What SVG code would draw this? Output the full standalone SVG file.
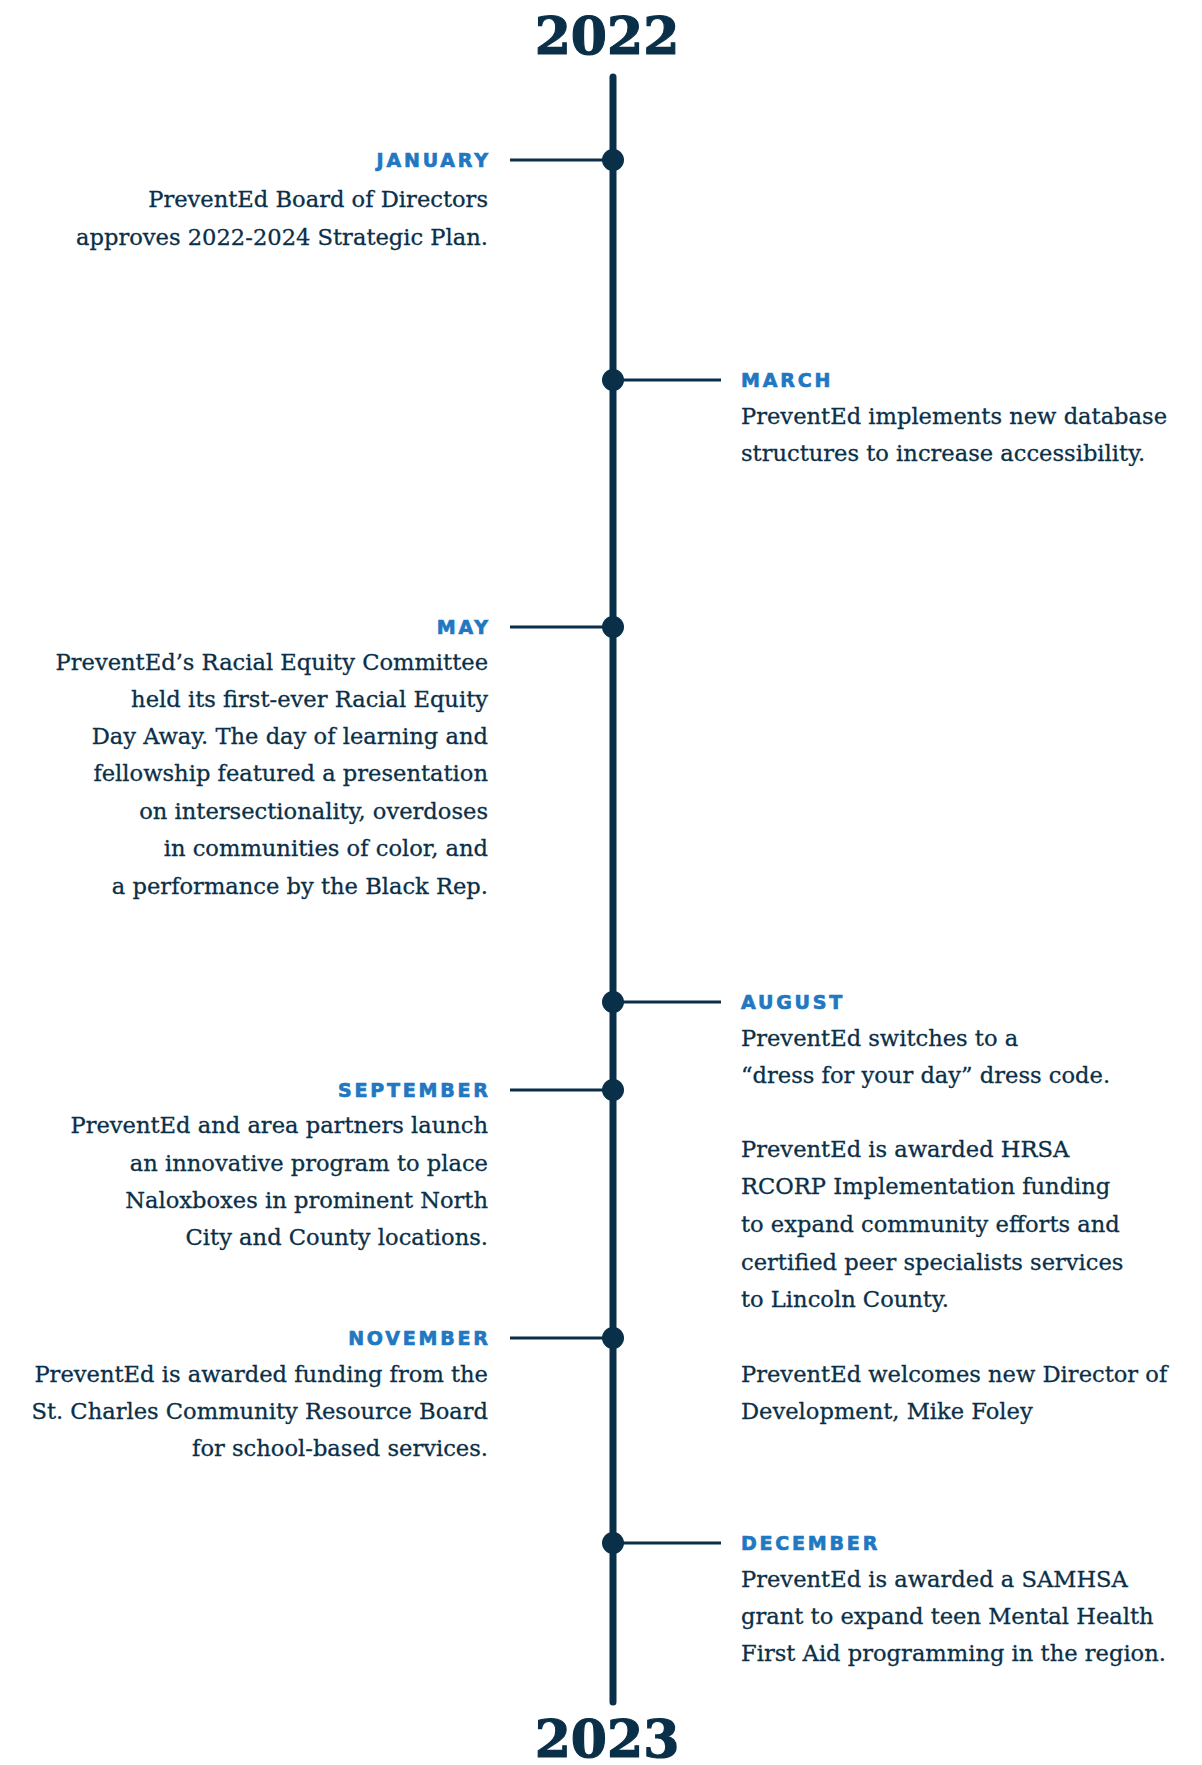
<svg xmlns="http://www.w3.org/2000/svg" width="1202" height="1765" viewBox="0 0 1202 1765">
<style>
.year{font-family:"DejaVu Serif",serif;font-weight:bold;font-size:52px;fill:#0a2f48;stroke:#0a2f48;stroke-width:1.2;text-anchor:middle}
.m{font-family:"DejaVu Sans",sans-serif;font-weight:bold;font-size:19px;letter-spacing:2.8px;fill:#1f78c1;stroke:#1f78c1;stroke-width:0.7}
.b{font-family:"DejaVu Serif",serif;font-size:22.6px;fill:#0a2f48;stroke:#0a2f48;stroke-width:0.3}
.l{text-anchor:end}
.c{stroke:#0a2f48;stroke-width:2.8;fill:none}
.d{fill:#0a2f48}
</style>
<rect width="1202" height="1765" fill="#ffffff"/>
<text class="year" x="607" y="54">2022</text>
<text class="year" x="607" y="1757">2023</text>
<g id="connectors">
<line x1="613" y1="77" x2="613" y2="1702" stroke="#0a2f48" stroke-width="7" stroke-linecap="round"/>
<line class="c" x1="510" y1="160" x2="613" y2="160"/>
<line class="c" x1="613" y1="380" x2="721" y2="380"/>
<line class="c" x1="510" y1="627" x2="613" y2="627"/>
<line class="c" x1="613" y1="1002" x2="721" y2="1002"/>
<line class="c" x1="510" y1="1090" x2="613" y2="1090"/>
<line class="c" x1="510" y1="1338" x2="613" y2="1338"/>
<line class="c" x1="613" y1="1543" x2="721" y2="1543"/>
</g>
<g id="january">
<circle class="d" cx="613" cy="160" r="11"/>
<text class="m l" x="490.8" y="167">JANUARY</text>
<text class="b l" x="488" y="207">PreventEd Board of Directors</text>
<text class="b l" x="488" y="245">approves 2022-2024 Strategic Plan.</text>
</g>
<g id="march">
<circle class="d" cx="613" cy="380" r="11"/>
<text class="m" x="741" y="387">MARCH</text>
<text class="b" x="741" y="424">PreventEd implements new database</text>
<text class="b" x="741" y="461">structures to increase accessibility.</text>
</g>
<g id="may">
<circle class="d" cx="613" cy="627" r="11"/>
<text class="m l" x="490.8" y="634">MAY</text>
<text class="b l" x="488" y="670">PreventEd’s Racial Equity Committee</text>
<text class="b l" x="488" y="707">held its first-ever Racial Equity</text>
<text class="b l" x="488" y="744">Day Away. The day of learning and</text>
<text class="b l" x="488" y="781">fellowship featured a presentation</text>
<text class="b l" x="488" y="819">on intersectionality, overdoses</text>
<text class="b l" x="488" y="856">in communities of color, and</text>
<text class="b l" x="488" y="894">a performance by the Black Rep.</text>
</g>
<g id="august">
<circle class="d" cx="613" cy="1002" r="11"/>
<text class="m" x="741" y="1009">AUGUST</text>
<text class="b" x="741" y="1046">PreventEd switches to a</text>
<text class="b" x="741" y="1083">“dress for your day” dress code.</text>
<text class="b" x="741" y="1157">PreventEd is awarded HRSA</text>
<text class="b" x="741" y="1194">RCORP Implementation funding</text>
<text class="b" x="741" y="1232">to expand community efforts and</text>
<text class="b" x="741" y="1270">certified peer specialists services</text>
<text class="b" x="741" y="1307">to Lincoln County.</text>
<text class="b" x="741" y="1382">PreventEd welcomes new Director of</text>
<text class="b" x="741" y="1419">Development, Mike Foley</text>
</g>
<g id="september">
<circle class="d" cx="613" cy="1090" r="11"/>
<text class="m l" x="490.8" y="1097">SEPTEMBER</text>
<text class="b l" x="488" y="1133">PreventEd and area partners launch</text>
<text class="b l" x="488" y="1171">an innovative program to place</text>
<text class="b l" x="488" y="1208">Naloxboxes in prominent North</text>
<text class="b l" x="488" y="1245">City and County locations.</text>
</g>
<g id="november">
<circle class="d" cx="613" cy="1338" r="11"/>
<text class="m l" x="490.8" y="1345">NOVEMBER</text>
<text class="b l" x="488" y="1382">PreventEd is awarded funding from the</text>
<text class="b l" x="488" y="1419">St. Charles Community Resource Board</text>
<text class="b l" x="488" y="1456">for school-based services.</text>
</g>
<g id="december">
<circle class="d" cx="613" cy="1543" r="11"/>
<text class="m" x="741" y="1550">DECEMBER</text>
<text class="b" x="741" y="1587">PreventEd is awarded a SAMHSA</text>
<text class="b" x="741" y="1624">grant to expand teen Mental Health</text>
<text class="b" x="741" y="1661">First Aid programming in the region.</text>
</g>
</svg>
